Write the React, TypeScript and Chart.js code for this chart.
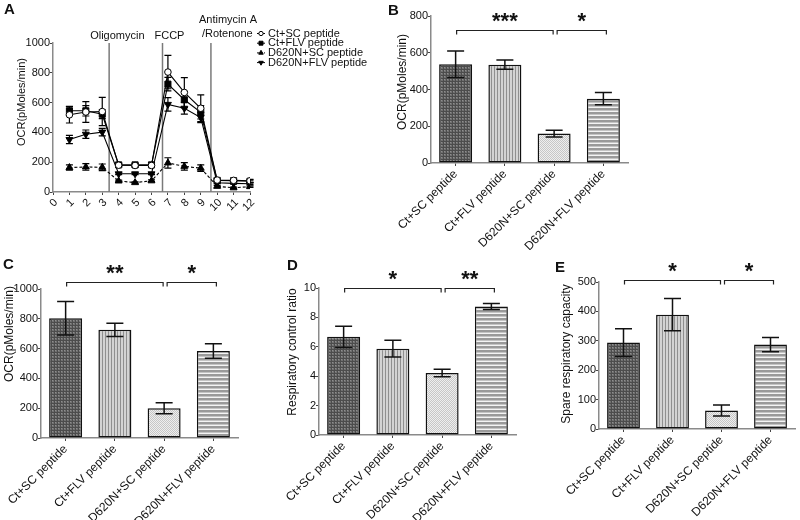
import React, { useEffect, useRef } from 'react';
import { Chart, registerables } from 'chart.js';

Chart.register(...registerables);

const FONT = "'Liberation Sans', Arial, Helvetica, sans-serif";
const INK = '#111';
const AXIS = '#8a8a8a';

// ---------------- Data ----------------
const groupLabels = ['Ct+SC peptide', 'Ct+FLV peptide', 'D620N+SC peptide', 'D620N+FLV peptide'];

// Panel A: OCR time course (measurement number)
const measurements = [1, 2, 3, 4, 5, 6, 7, 8, 9, 10, 11, 12];
const ocrCtSc = [518, 537, 540, 180, 178, 178, 805, 668, 562, 80, 78, 75];
const ocrCtScSem = [55, 70, 95, 12, 10, 10, 112, 100, 90, 12, 10, 10];
const ocrCtFlv = [545, 545, 522, 182, 182, 182, 724, 619, 535, 78, 76, 72];
const ocrCtFlvSem = [30, 35, 30, 10, 8, 8, 45, 55, 45, 8, 8, 8];
const ocrD620nSc = [164, 168, 166, 74, 63, 75, 195, 172, 160, 38, 28, 36];
const ocrD620nScSem = [18, 22, 22, 6, 5, 6, 35, 25, 22, 6, 5, 5];
const ocrD620nFlv = [352, 388, 402, 122, 122, 122, 588, 562, 500, 62, 58, 55];
const ocrD620nFlvSem = [28, 28, 25, 6, 6, 6, 45, 40, 35, 6, 5, 5];
const injectionPoints = [3.42, 6.67, 9.62];
const injectionLabels = [['Oligomycin'], ['FCCP'], ['Antimycin A', '/Rotenone']];

// Panel B: basal OCR
const basalOcr = [537, 535, 160, 350];
const basalSem = [72, 25, 18, 33];
// Panel C: maximal OCR
const maximalOcr = [804, 726, 200, 584];
const maximalSem = [112, 44, 37, 48];
// Panel D: respiratory control ratio
const rcrValues = [6.68, 5.87, 4.22, 8.74];
const rcrSem = [0.72, 0.57, 0.26, 0.2];
// Panel E: spare respiratory capacity
const spareValues = [294, 389, 63, 287];
const spareSem = [47, 55, 19, 24];

// significance brackets (category indices, bracket level in data units, label)
const basalSig = [{ from: 0, to: 2, level: 722, stars: '***' }, { from: 2, to: 3, level: 722, stars: '*' }];
const maximalSig = [{ from: 0, to: 2, level: 1048, stars: '**' }, { from: 2, to: 3, level: 1048, stars: '*' }];
const rcrSig = [{ from: 0, to: 2, level: 9.98, stars: '*' }, { from: 2, to: 3, level: 9.98, stars: '**' }];
const spareSig = [{ from: 0, to: 2, level: 508, stars: '*' }, { from: 2, to: 3, level: 508, stars: '*' }];

// ---------------- helpers ----------------
function makePatterns() {
  const mk = (w: number, h: number, paint: (g: CanvasRenderingContext2D) => void) => {
    const c = document.createElement('canvas');
    c.width = w;
    c.height = h;
    const g = c.getContext('2d') as CanvasRenderingContext2D;
    paint(g);
    return g.createPattern(c, 'repeat');
  };
  return [
    mk(3, 3, (g) => {
      g.fillStyle = '#717171'; g.fillRect(0, 0, 3, 3);
      g.fillStyle = '#4c4c4c'; g.fillRect(0, 0, 3, 1); g.fillRect(0, 0, 1, 3);
      g.fillStyle = '#8e8e8e'; g.fillRect(1, 1, 1, 1);
    }),
    mk(3, 1, (g) => {
      g.fillStyle = '#d3d3d3'; g.fillRect(0, 0, 3, 1);
      g.fillStyle = '#8f8f8f'; g.fillRect(0, 0, 1, 1);
    }),
    mk(2, 2, (g) => {
      g.fillStyle = '#eeeeee'; g.fillRect(0, 0, 2, 2);
      g.fillStyle = '#c6c6c6'; g.fillRect(0, 0, 1, 1); g.fillRect(1, 1, 1, 1);
    }),
    mk(1, 4, (g) => {
      g.fillStyle = '#f4f4f4'; g.fillRect(0, 0, 1, 4);
      g.fillStyle = '#9a9a9a'; g.fillRect(0, 0, 1, 2);
      g.fillStyle = '#c4c4c4'; g.fillRect(0, 2, 1, 1);
    }),
  ];
}

function drawMarker(ctx: CanvasRenderingContext2D, style: string, rot: number, x: number, y: number, r: number, fill: string) {
  ctx.beginPath();
  if (style === 'circle') {
    ctx.arc(x, y, r, 0, Math.PI * 2);
  } else if (style === 'rect') {
    const s = r / Math.SQRT2;
    ctx.rect(x - s, y - s, 2 * s, 2 * s);
  } else {
    let a = (rot * Math.PI) / 180;
    ctx.moveTo(x + Math.sin(a) * r, y - Math.cos(a) * r);
    a += (2 * Math.PI) / 3;
    ctx.lineTo(x + Math.sin(a) * r, y - Math.cos(a) * r);
    a += (2 * Math.PI) / 3;
    ctx.lineTo(x + Math.sin(a) * r, y - Math.cos(a) * r);
    ctx.closePath();
  }
  ctx.fillStyle = fill;
  ctx.fill();
  ctx.strokeStyle = '#000';
  ctx.lineWidth = 1;
  ctx.stroke();
}

// ---------------- plugins ----------------
function paintErrors(chart: any, o: any) {
  const { ctx } = chart;
  const ys = chart.scales.y;
  chart.data.datasets.forEach((ds: any, di: number) => {
    const errs = ds.errors;
    if (!errs) return;
    const meta = chart.getDatasetMeta(di);
    meta.data.forEach((el: any, i: number) => {
      const raw = ds.data[i];
      const v = typeof raw === 'number' ? raw : raw.y;
      const x = el.x;
      const yTop = ys.getPixelForValue(v + errs[i]);
      const yBot = ys.getPixelForValue(v - errs[i]);
      const h = o.cap / 2;
      ctx.save();
      ctx.strokeStyle = o.color;
      ctx.lineWidth = o.width;
      ctx.beginPath();
      ctx.moveTo(x, yTop); ctx.lineTo(x, yBot);
      ctx.moveTo(x - h, yTop); ctx.lineTo(x + h, yTop);
      ctx.moveTo(x - h, yBot); ctx.lineTo(x + h, yBot);
      ctx.stroke();
      ctx.restore();
    });
  });
}

const errorBarPlugin = {
  id: 'errorBars',
  beforeDatasetsDraw(chart: any, _a: any, o: any) {
    if (o.below) paintErrors(chart, o);
  },
  afterDatasetsDraw(chart: any, _a: any, o: any) {
    if (!o.below) paintErrors(chart, o);
  },
};

const bracketPlugin = {
  id: 'sigBrackets',
  afterDraw(chart: any, _a: any, o: any) {
    const { ctx } = chart;
    const xs = chart.scales.x;
    const ys = chart.scales.y;
    ctx.save();
    o.items.forEach((b: any, k: number) => {
      const x1 = xs.getPixelForValue(b.from) + (k === 0 ? 1 : 3);
      const x2 = xs.getPixelForValue(b.to) + (k === 0 ? -1 : 3);
      const y = Math.round(ys.getPixelForValue(b.level)) + 0.5;
      ctx.strokeStyle = '#222';
      ctx.lineWidth = 1.2;
      ctx.beginPath();
      ctx.moveTo(x1, y + 4); ctx.lineTo(x1, y); ctx.lineTo(x2, y); ctx.lineTo(x2, y + 4);
      ctx.stroke();
      ctx.font = `bold 22px ${FONT}`;
      ctx.fillStyle = INK;
      ctx.textAlign = 'center';
      ctx.textBaseline = 'alphabetic';
      const m = ctx.measureText(b.stars);
      const cy = y - 13;
      const base = cy + (m.actualBoundingBoxAscent - m.actualBoundingBoxDescent) / 2;
      ctx.fillText(b.stars, (x1 + x2) / 2, base);
    });
    ctx.restore();
  },
};

const panelTextPlugin = {
  id: 'panelText',
  afterDraw(chart: any, _a: any, o: any) {
    const { ctx } = chart;
    ctx.save();
    ctx.fillStyle = INK;
    ctx.font = `bold 15px ${FONT}`;
    ctx.textBaseline = 'top';
    ctx.textAlign = 'left';
    ctx.fillText(o.letter, o.letterPos[0], o.letterPos[1]);
    ctx.translate(o.titlePos[0], o.titlePos[1]);
    ctx.rotate(-Math.PI / 2);
    ctx.font = `${o.titleSize}px ${FONT}`;
    ctx.textAlign = 'center';
    ctx.textBaseline = 'middle';
    ctx.fillText(o.title, 0, 0);
    ctx.restore();
  },
};

const injectionPlugin = {
  id: 'injections',
  beforeDatasetsDraw(chart: any, _a: any, o: any) {
    const { ctx, chartArea } = chart;
    const xs = chart.scales.x;
    ctx.save();
    o.points.forEach((p: number, i: number) => {
      const x = xs.getPixelForValue(p);
      ctx.strokeStyle = '#7a7a7a';
      ctx.lineWidth = 1.5;
      ctx.beginPath();
      ctx.moveTo(x, chartArea.top);
      ctx.lineTo(x, chartArea.bottom);
      ctx.stroke();
      ctx.fillStyle = INK;
      ctx.font = `11px ${FONT}`;
      ctx.textAlign = 'left';
      ctx.textBaseline = 'alphabetic';
      o.labels[i].forEach((t: string, j: number) => {
        const pos = o.placement[i][j];
        ctx.fillText(t, x + pos[0], pos[1]);
      });
    });
    ctx.restore();
  },
};

const markerLegendPlugin = {
  id: 'markerLegend',
  afterDraw(chart: any, _a: any, o: any) {
    const { ctx } = chart;
    chart.data.datasets.forEach((ds: any, i: number) => {
      const y = o.y + i * o.spacing;
      const x = o.x;
      ctx.save();
      ctx.strokeStyle = '#000';
      ctx.lineWidth = 1;
      ctx.setLineDash(ds.borderDash && ds.borderDash.length ? [2, 1.5] : []);
      ctx.beginPath();
      ctx.moveTo(x - 4, y);
      ctx.lineTo(x + 4, y);
      ctx.stroke();
      ctx.setLineDash([]);
      drawMarker(ctx, ds.pointStyle, ds.pointRotation || 0, x, y, ds.pointRadius * 0.65, ds.pointBackgroundColor);
      ctx.fillStyle = INK;
      ctx.font = `11px ${FONT}`;
      ctx.textAlign = 'left';
      ctx.textBaseline = 'middle';
      ctx.fillText(ds.label, x + 7, y);
      ctx.restore();
    });
  },
};

// ---------------- configs ----------------
const plainNumber = (v: any) => String(v);

function axisTicks(size: number, extra: any = {}) {
  return { font: { family: FONT, size }, color: INK, ...extra };
}

function lineChartConfig(): any {
  const seriesA = [
    { label: groupLabels[0], mean: ocrCtSc, sem: ocrCtScSem, style: 'circle', rot: 0, fill: '#ffffff', dash: [], r: 3.3 },
    { label: groupLabels[1], mean: ocrCtFlv, sem: ocrCtFlvSem, style: 'rect', rot: 0, fill: '#000000', dash: [], r: 4.3 },
    { label: groupLabels[2], mean: ocrD620nSc, sem: ocrD620nScSem, style: 'triangle', rot: 0, fill: '#000000', dash: [3, 2], r: 4 },
    { label: groupLabels[3], mean: ocrD620nFlv, sem: ocrD620nFlvSem, style: 'triangle', rot: 180, fill: '#000000', dash: [], r: 4 },
  ];
  return {
    type: 'line',
    data: {
      datasets: seriesA.map((s) => ({
        label: s.label,
        data: measurements.map((m, i) => ({ x: m, y: s.mean[i] })),
        errors: s.sem,
        borderColor: '#000',
        borderWidth: 1.1,
        borderDash: s.dash,
        pointStyle: s.style,
        pointRotation: s.rot,
        pointRadius: s.r,
        pointBackgroundColor: s.fill,
        pointBorderColor: '#000',
        pointBorderWidth: 1,
        tension: 0,
        fill: false,
      })),
    },
    options: {
      animation: false,
      responsive: false,
      devicePixelRatio: 1,
      layout: { padding: { left: 0, top: 43, right: 130, bottom: 0 } },
      plugins: {
        legend: { display: false },
        tooltip: { enabled: false },
        errorBars: { below: true, cap: 7, width: 1.2, color: '#000' },
        injections: {
          points: injectionPoints,
          labels: injectionLabels,
          placement: [[[-19, 39]], [[-8, 39]], [[-12, 23], [-9, 37]]],
        },
        markerLegend: { x: 261, y: 33.5, spacing: 9.7 },
        panelText: { letter: 'A', letterPos: [4, 2], title: 'OCR(pMoles/min)', titlePos: [22, 102], titleSize: 11 },
      },
      scales: {
        x: {
          type: 'linear',
          min: 0,
          max: 12,
          afterFit: (s: any) => { s.height = 58; },
          ticks: axisTicks(11, { stepSize: 1, minRotation: 45, maxRotation: 45, autoSkip: false, padding: 1, labelOffset: 3, callback: plainNumber }),
          grid: { drawOnChartArea: false, tickLength: 3, tickColor: '#444' },
          border: { color: AXIS, width: 1.5 },
        },
        y: {
          min: 0,
          max: 1000,
          afterFit: (s: any) => { s.width = 53; },
          ticks: axisTicks(11, { stepSize: 200, padding: 0, callback: plainNumber }),
          grid: { drawOnChartArea: false, tickLength: 3, tickColor: '#444' },
          border: { color: AXIS, width: 1.5 },
        },
      },
    },
    plugins: [errorBarPlugin, injectionPlugin, markerLegendPlugin, panelTextPlugin],
  };
}

function barChartConfig(p: any): any {
  return {
    type: 'bar',
    data: {
      labels: groupLabels,
      datasets: [
        {
          data: p.values,
          errors: p.sem,
          backgroundColor: makePatterns(),
          borderColor: INK,
          borderWidth: 1.5,
          borderSkipped: false,
          barPercentage: 0.67,
          categoryPercentage: 1,
        },
      ],
    },
    options: {
      animation: false,
      responsive: false,
      devicePixelRatio: 1,
      layout: { padding: p.padding },
      plugins: {
        legend: { display: false },
        tooltip: { enabled: false },
        errorBars: { below: false, cap: 17, width: 1.5, color: INK },
        sigBrackets: { items: p.sig },
        panelText: { letter: p.letter, letterPos: p.letterPos, title: p.title, titlePos: p.titlePos, titleSize: 12 },
      },
      scales: {
        x: {
          afterFit: (s: any) => { s.height = p.xHeight; },
          ticks: axisTicks(12, { minRotation: 45, maxRotation: 45, autoSkip: false, padding: 1 }),
          grid: { offset: false, drawOnChartArea: false, tickLength: 3, tickColor: '#444' },
          border: { color: AXIS, width: 1.5 },
        },
        y: {
          min: 0,
          max: p.yMax,
          afterFit: (s: any) => { s.width = p.yWidth; },
          ticks: axisTicks(11, { stepSize: p.yStep, padding: 0, callback: plainNumber }),
          grid: { drawOnChartArea: false, tickLength: 3, tickColor: '#444' },
          border: { color: AXIS, width: 1.5 },
        },
      },
    },
    plugins: [errorBarPlugin, bracketPlugin, panelTextPlugin],
  };
}

export default function App() {
  const refA = useRef<HTMLCanvasElement>(null);
  const refB = useRef<HTMLCanvasElement>(null);
  const refC = useRef<HTMLCanvasElement>(null);
  const refD = useRef<HTMLCanvasElement>(null);
  const refE = useRef<HTMLCanvasElement>(null);

  useEffect(() => {
    const charts: Chart[] = [];
    charts.push(new Chart(refA.current as HTMLCanvasElement, lineChartConfig()));
    charts.push(
      new Chart(
        refB.current as HTMLCanvasElement,
        barChartConfig({
          values: basalOcr, sem: basalSem, yMax: 800, yStep: 200, sig: basalSig,
          letter: 'B', letterPos: [8, 3], title: 'OCR(pMoles/min)', titlePos: [23, 82],
          padding: { left: 0, top: 16, right: 12, bottom: 0 }, yWidth: 51, xHeight: 87,
        })
      )
    );
    charts.push(
      new Chart(
        refC.current as HTMLCanvasElement,
        barChartConfig({
          values: maximalOcr, sem: maximalSem, yMax: 1000, yStep: 200, sig: maximalSig,
          letter: 'C', letterPos: [3, 7], title: 'OCR(pMoles/min)', titlePos: [10, 84],
          padding: { left: 0, top: 39, right: 27, bottom: 0 }, yWidth: 41, xHeight: 82,
        })
      )
    );
    charts.push(
      new Chart(
        refD.current as HTMLCanvasElement,
        barChartConfig({
          values: rcrValues, sem: rcrSem, yMax: 10, yStep: 2, sig: rcrSig,
          letter: 'D', letterPos: [22, 8], title: 'Respiratory control ratio', titlePos: [28, 102],
          padding: { left: 0, top: 38, right: 14, bottom: 0 }, yWidth: 54, xHeight: 85,
        })
      )
    );
    charts.push(
      new Chart(
        refE.current as HTMLCanvasElement,
        barChartConfig({
          values: spareValues, sem: spareSem, yMax: 500, yStep: 100, sig: spareSig,
          letter: 'E', letterPos: [25, 10], title: 'Spare respiratory capacity', titlePos: [37, 104],
          padding: { left: 0, top: 32, right: 5, bottom: 0 }, yWidth: 69, xHeight: 91,
        })
      )
    );
    return () => charts.forEach((c) => c.destroy());
  }, []);

  const abs = (left: number, top: number): React.CSSProperties => ({ position: 'absolute', left, top });

  return (
    <div style={{ position: 'fixed', left: 0, top: 0, width: 800, height: 520, background: '#fff', overflow: 'hidden' }}>
      <canvas ref={refA} width={380} height={250} style={abs(0, 0)} />
      <canvas ref={refB} width={260} height={250} style={abs(380, 0)} />
      <canvas ref={refC} width={265} height={270} style={abs(0, 250)} />
      <canvas ref={refD} width={265} height={270} style={abs(265, 250)} />
      <canvas ref={refE} width={270} height={270} style={abs(530, 250)} />
    </div>
  );
}
